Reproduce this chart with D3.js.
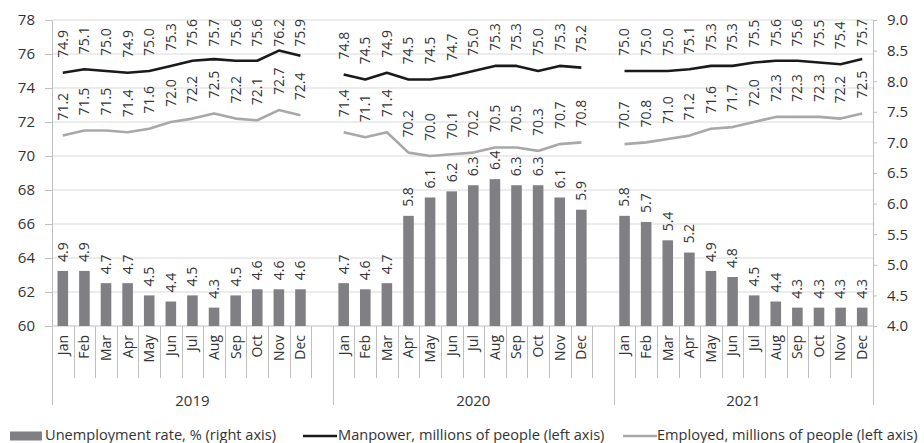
<!DOCTYPE html>
<html>
<head>
<meta charset="utf-8">
<script src="https://cdn.jsdelivr.net/npm/d3@7/dist/d3.min.js"></script>
<style>
  html, body { margin: 0; padding: 0; background: #fff; }
  svg { display: block; font-family: "Open Sans", sans-serif; }
</style>
</head>
<body>
<svg id="chart" width="924" height="443"></svg>
<script>
// ---------- data ----------
const years = ["2019", "2020", "2021"];
const months = ["Jan","Feb","Mar","Apr","May","Jun","Jul","Aug","Sep","Oct","Nov","Dec"];

const unemployment2019 = [4.9, 4.9, 4.7, 4.7, 4.5, 4.4, 4.5, 4.3, 4.5, 4.6, 4.6, 4.6];
const unemployment2020 = [4.7, 4.6, 4.7, 5.8, 6.1, 6.2, 6.3, 6.4, 6.3, 6.3, 6.1, 5.9];
const unemployment2021 = [5.8, 5.7, 5.4, 5.2, 4.9, 4.8, 4.5, 4.4, 4.3, 4.3, 4.3, 4.3];

const manpower2019 = [74.9, 75.1, 75.0, 74.9, 75.0, 75.3, 75.6, 75.7, 75.6, 75.6, 76.2, 75.9];
const manpower2020 = [74.8, 74.5, 74.9, 74.5, 74.5, 74.7, 75.0, 75.3, 75.3, 75.0, 75.3, 75.2];
const manpower2021 = [75.0, 75.0, 75.0, 75.1, 75.3, 75.3, 75.5, 75.6, 75.6, 75.5, 75.4, 75.7];

const employed2019 = [71.2, 71.5, 71.5, 71.4, 71.6, 72.0, 72.2, 72.5, 72.2, 72.1, 72.7, 72.4];
const employed2020 = [71.4, 71.1, 71.4, 70.2, 70.0, 70.1, 70.2, 70.5, 70.5, 70.3, 70.7, 70.8];
const employed2021 = [70.7, 70.8, 71.0, 71.2, 71.6, 71.7, 72.0, 72.3, 72.3, 72.3, 72.2, 72.5];

const leftTicks = [60, 62, 64, 66, 68, 70, 72, 74, 76, 78];
const rightTicks = [4.0, 4.5, 5.0, 5.5, 6.0, 6.5, 7.0, 7.5, 8.0, 8.5, 9.0];

const legendLabels = ["Unemployment rate, % (right axis)",
                      "Manpower, millions of people (left axis)",
                      "Employed, millions of people (left axis)"];

// ---------- build slots ----------
const unempByYear = [unemployment2019, unemployment2020, unemployment2021];
const manByYear = [manpower2019, manpower2020, manpower2021];
const empByYear = [employed2019, employed2020, employed2021];

const slots = [];
years.forEach((y, yi) => {
  months.forEach(m => slots.push(y + "-" + m));
  if (yi < years.length - 1) slots.push(y + "-gap");
});

// ---------- layout ----------
const svg = d3.select("#chart");
const plotL = 52, plotR = 873, plotT = 20, plotB = 326;
const textColor = "#333";
const barColor = "#808084";
const manColor = "#1a1a1a";
const empColor = "#a8a8a8";
const axisColor = "#bfbfbf";
const gridColor = "#d9d9d9";

const x = d3.scaleBand().domain(slots).range([plotL, plotR]).paddingInner(0).paddingOuter(0);
const yL = d3.scaleLinear().domain([60, 78]).range([plotB, plotT]);
const yR = d3.scaleLinear().domain([4, 9]).range([plotB, plotT]);
const bw = x.bandwidth();

// grid
svg.append("g").selectAll("line").data(leftTicks.slice(1)).join("line")
  .attr("x1", plotL).attr("x2", plotR)
  .attr("y1", d => yL(d)).attr("y2", d => yL(d))
  .attr("stroke", gridColor).attr("stroke-width", 1);

// left axis
const gL = svg.append("g").attr("transform", `translate(${plotL},0)`)
  .call(d3.axisLeft(yL).tickValues(leftTicks).tickSize(7).tickSizeOuter(0).tickPadding(10));
gL.select(".domain").attr("stroke", axisColor);
gL.selectAll(".tick line").attr("stroke", axisColor);
gL.selectAll(".tick text").attr("fill", textColor).style("font-size", "15px").style("font-family", "Open Sans");

// right axis
const gR = svg.append("g").attr("transform", `translate(${plotR},0)`)
  .call(d3.axisRight(yR).tickValues(rightTicks).tickFormat(d3.format(".1f")).tickSize(4).tickSizeOuter(0).tickPadding(10));
gR.select(".domain").attr("stroke", axisColor);
gR.selectAll(".tick line").attr("stroke", axisColor);
gR.selectAll(".tick text").attr("fill", textColor).style("font-size", "15px").style("font-family", "Open Sans");

// bottom axis line
svg.append("line").attr("x1", plotL).attr("x2", plotR).attr("y1", plotB).attr("y2", plotB)
  .attr("stroke", axisColor);

// category separators
const groupEdges = new Set();
groupEdges.add(plotL); groupEdges.add(plotR);
years.forEach((y, yi) => {
  if (yi > 0) groupEdges.add(x(y + "-Jan"));
});
const sepXs = slots.map(s => x(s)).concat([plotR]);
svg.append("g").selectAll("line").data(sepXs).join("line")
  .attr("x1", d => Math.round(d) + 0.5).attr("x2", d => Math.round(d) + 0.5)
  .attr("y1", plotB).attr("y2", d => groupEdges.has(d) ? 405 : 378)
  .attr("stroke", axisColor);

// month labels
const monthData = [];
years.forEach((y, yi) => months.forEach(m => monthData.push({ key: y + "-" + m, label: m })));
svg.append("g").selectAll("text").data(monthData).join("text")
  .attr("transform", d => `translate(${x(d.key) + bw / 2},335) rotate(-90)`)
  .attr("text-anchor", "end").attr("dy", "0.35em")
  .attr("fill", textColor).style("font-size", "14px")
  .text(d => d.label);

// year labels
svg.append("g").selectAll("text").data(years).join("text")
  .attr("x", (y, yi) => {
    const start = x(y + "-Jan");
    const end = yi < years.length - 1 ? x(years[yi + 1] + "-Jan") : plotR;
    return (start + end) / 2;
  })
  .attr("y", 406).attr("text-anchor", "middle")
  .attr("fill", textColor).style("font-size", "15px")
  .text(d => d);

// bars
const barData = [];
years.forEach((y, yi) => months.forEach((m, mi) => barData.push({ key: y + "-" + m, v: unempByYear[yi][mi] })));
const barW = bw * 0.49;
svg.append("g").selectAll("rect").data(barData).join("rect")
  .attr("x", d => x(d.key) + (bw - barW) / 2)
  .attr("width", barW)
  .attr("y", d => yR(d.v))
  .attr("height", d => plotB - yR(d.v))
  .attr("fill", barColor);

// lines
const line = d3.line().x(d => x(d.key) + bw / 2).y(d => yL(d.v));
function seriesData(byYear) {
  return years.map((y, yi) => months.map((m, mi) => ({ key: y + "-" + m, v: byYear[yi][mi] })));
}
const manSeries = seriesData(manByYear);
const empSeries = seriesData(empByYear);

svg.append("g").selectAll("path").data(empSeries).join("path")
  .attr("d", line).attr("fill", "none").attr("stroke", empColor).attr("stroke-width", 2.6)
  .attr("stroke-linejoin", "round");
svg.append("g").selectAll("path").data(manSeries).join("path")
  .attr("d", line).attr("fill", "none").attr("stroke", manColor).attr("stroke-width", 2.6)
  .attr("stroke-linejoin", "round");

// labels
const fmt = d3.format(".1f");
function addLabels(data, yScale, gap, minTop) {
  const g = svg.append("g");
  data.forEach(d => {
    const cx = x(d.key) + bw / 2;
    const t = g.append("text")
      .attr("text-anchor", "start").attr("dy", "0.35em")
      .attr("fill", textColor).style("font-size", "14px")
      .text(fmt(d.v));
    const len = t.node().getComputedTextLength();
    let y0 = yScale(d.v) - gap;
    if (y0 - len < minTop) y0 = minTop + len;
    t.attr("transform", `translate(${cx},${y0}) rotate(-90)`);
  });
}
addLabels(barData, yR, 9, 0);
addLabels(manSeries.flat(), yL, 15, 19);
addLabels(empSeries.flat(), yL, 15, 19);

// legend
const legY = 436;
const legFont = "14.6px";
const leg = svg.append("g");
leg.append("rect").attr("x", 10).attr("y", legY - 4.5).attr("width", 32).attr("height", 9).attr("fill", barColor);
leg.append("text").attr("x", 45).attr("y", legY + 3.5).attr("fill", textColor).style("font-size", legFont).text(legendLabels[0]);
leg.append("line").attr("x1", 303).attr("x2", 337).attr("y1", legY).attr("y2", legY).attr("stroke", manColor).attr("stroke-width", 2.6);
leg.append("text").attr("x", 338).attr("y", legY + 3.5).attr("fill", textColor).style("font-size", legFont).text(legendLabels[1]);
leg.append("line").attr("x1", 623).attr("x2", 657).attr("y1", legY).attr("y2", legY).attr("stroke", empColor).attr("stroke-width", 2.6);
leg.append("text").attr("x", 657).attr("y", legY + 3.5).attr("fill", textColor).style("font-size", legFont).text(legendLabels[2]);
</script>
</body>
</html>
